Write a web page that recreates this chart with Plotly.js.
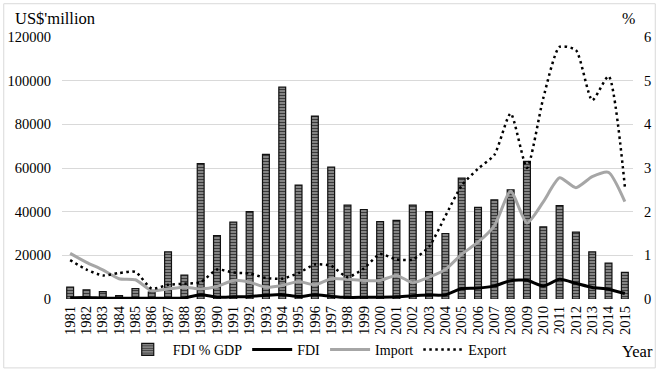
<!DOCTYPE html>
<html>
<head>
<meta charset="utf-8">
<script src="https://cdn.plot.ly/plotly-3.0.1.min.js"></script>
<style>html,body{margin:0;padding:0;background:#fff;}#chart{width:660px;height:373px;}</style>
</head>
<body>
<div id="chart"></div>
<script>
var years = ['1981','1982','1983','1984','1985','1986','1987','1988','1989','1990','1991','1992','1993','1994','1995','1996','1997','1998','1999','2000','2001','2002','2003','2004','2005','2006','2007','2008','2009','2010','2011','2012','2013','2014','2015'];
var fdiPctGdp = [0.27,0.21,0.17,0.08,0.24,0.16,1.08,0.55,3.10,1.45,1.76,2.00,3.31,4.85,2.61,4.19,3.02,2.15,2.05,1.77,1.80,2.15,2.00,1.50,2.77,2.10,2.27,2.50,3.15,1.65,2.14,1.53,1.08,0.82,0.61];
var fdi = [600,700,400,300,400,300,350,500,2000,800,1000,1200,1700,2000,1100,1900,1200,750,750,800,1000,1500,1800,1900,4800,5000,6000,8400,8600,6000,9000,7200,5300,4500,2500];
var imports = [20900,16800,13300,9300,8800,3800,4600,5400,4600,5700,8500,7700,5400,6200,8000,6500,9300,9000,8500,8500,10800,7500,10000,13500,20500,26000,33500,49400,34800,44500,55500,51000,56000,58000,44600];
var exports = [17800,13500,10800,11900,12400,4700,6500,7000,7700,13500,12100,11700,9600,9300,11900,15800,15200,10000,14000,20600,18100,18100,24000,38000,52000,59700,66000,85000,60000,92000,115500,114000,91000,102000,51500];
var leftTicks = [0,20000,40000,60000,80000,100000,120000];
var rightTicks = [0,1,2,3,4,5,6];

var serif = 'Liberation Serif, Times New Roman, serif';

var traces = [
  {type:'bar', name:'FDI % GDP', x:years, y:fdiPctGdp, yaxis:'y',
   marker:{color:'#808080', line:{color:'#111', width:1.2},
     pattern:{shape:'-', bgcolor:'#8c8c8c', fgcolor:'#3a3a3a', size:3, solidity:0.4}}},
  {type:'scatter', mode:'lines', name:'FDI', x:years, y:fdi, yaxis:'y2',
   line:{color:'#000', width:3, shape:'spline', smoothing:0.6}},
  {type:'scatter', mode:'lines', name:'Import', x:years, y:imports, yaxis:'y2',
   line:{color:'#a6a6a6', width:3, shape:'spline', smoothing:0.6}},
  {type:'scatter', mode:'lines', name:'Export', x:years, y:exports, yaxis:'y2',
   line:{color:'#000', width:2.5, dash:'2.5px,3.5px', shape:'spline', smoothing:0.6}}
];

var layout = {
  width:660, height:373,
  margin:{l:62, r:27, t:37, b:74},
  paper_bgcolor:'#fff', plot_bgcolor:'#fff',
  font:{family:serif, size:14, color:'#000'},
  bargap:0.58,
  showlegend:true,
  legend:{orientation:'h', x:0.447, xanchor:'center', yref:'container', y:0.062, yanchor:'middle',
    font:{family:serif, size:14, color:'#000'}, itemwidth:40, tracegroupgap:0},
  xaxis:{type:'category', range:[-0.5,34.5], tickangle:-90, tickmode:'array', tickvals:years, ticktext:years,
    showgrid:false, showline:false, zeroline:false, ticks:'', ticklabelstandoff:3,
    tickfont:{family:serif, size:14.5}},
  yaxis:{side:'right', range:[0,6], tickvals:rightTicks, showgrid:true, gridcolor:'#d9d9d9',
    gridwidth:1, zeroline:false, showline:false, ticks:'', ticklabelstandoff:10,
    tickfont:{family:serif, size:14.5}},
  yaxis2:{side:'left', overlaying:'y', range:[0,120000], tickvals:leftTicks,
    ticktext:leftTicks.map(String), showgrid:false, zeroline:false, showline:false,
    ticks:'', ticklabelstandoff:10, tickfont:{family:serif, size:14.5}},
  annotations:[
    {text:"US$'million", xref:'paper', yref:'paper', x:-0.086, y:1.0725, xanchor:'left', yanchor:'middle', showarrow:false, font:{family:serif, size:16.5}},
    {text:'%', xref:'paper', yref:'paper', x:0.992, y:1.07, xanchor:'center', yanchor:'middle', showarrow:false, font:{family:serif, size:16}},
    {text:'Year', xref:'paper', yref:'paper', x:0.977, y:-0.2, xanchor:'left', yanchor:'middle', showarrow:false, font:{family:serif, size:16.5}}
  ],
  shapes:[
    {type:'rect', xref:'paper', yref:'paper', x0:-0.102, x1:1.039, y0:-0.263, y1:1.127, line:{color:'#d9d9d9', width:1}, fillcolor:'rgba(0,0,0,0)', layer:'below'}
  ]
};

Plotly.newPlot('chart', traces, layout, {displayModeBar:false, staticPlot:true});
</script>
</body>
</html>
